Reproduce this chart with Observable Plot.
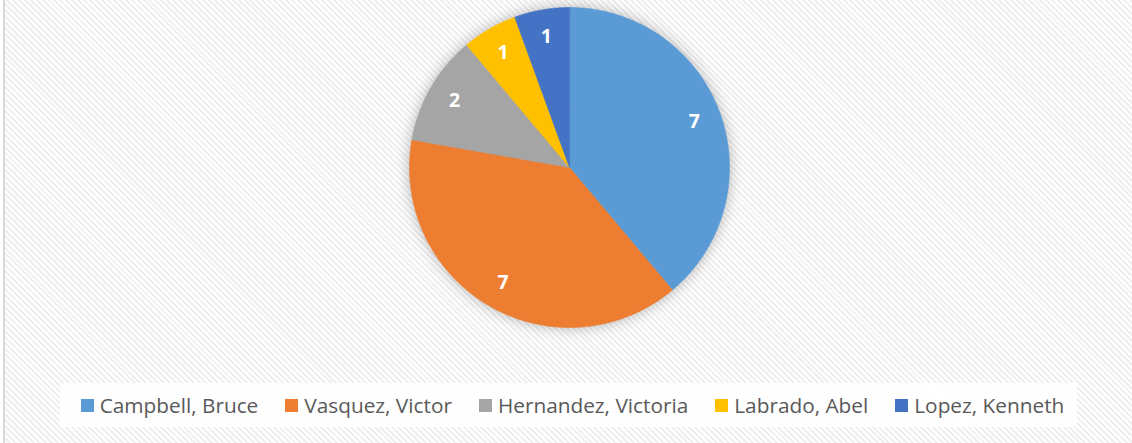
<!DOCTYPE html>
<html><head><meta charset="utf-8">
<script src="https://cdn.jsdelivr.net/npm/d3@7"></script>
<script src="https://cdn.jsdelivr.net/npm/@observablehq/plot@0.6"></script>
<style>
body{margin:0;background:#fff;}
#chart{position:relative;width:1132px;height:443px;overflow:hidden;
  background:repeating-linear-gradient(45deg,#ffffff 0 2.1px,#efefef 2.1px 4.2px);}
#leftpad{position:absolute;left:0;top:0;width:3px;height:443px;background:#fff;}
#leftline{position:absolute;left:3px;top:0;width:2px;height:443px;background:#d9d9d9;}
#plot{position:absolute;left:0;top:0;}
#legend{position:absolute;left:60px;top:383px;width:1009px;padding-left:8px;height:44px;background:rgba(255,255,255,0.9);
  display:flex;justify-content:center;align-items:center;gap:27px;
  font-family:"Open Sans",sans-serif;font-size:20.8px;color:#595959;}
#legend .item{display:flex;align-items:center;gap:6px;white-space:nowrap;}
#legend .sw{width:13px;height:13px;display:inline-block;}
</style></head>
<body><div id="chart"><div id="leftpad"></div><div id="leftline"></div><div id="plot"></div><div id="legend"></div></div>
<script>
// Data
const names = ["Campbell, Bruce", "Vasquez, Victor", "Hernandez, Victoria", "Labrado, Abel", "Lopez, Kenneth"];
const values = [7, 7, 2, 1, 1];
const colors = ["#5B9BD5", "#ED7D31", "#A5A5A5", "#FFC000", "#4472C4"];

const data = names.map((name, i) => ({name, value: values[i]}));
const arcs = d3.pie().sort(null).value(d => d.value)(data);

// polygon points for each slice (unit circle, clockwise from 12 o'clock)
const pts = [];
for (const a of arcs) {
  const n = Math.max(2, Math.ceil((a.endAngle - a.startAngle) / (Math.PI / 360)));
  pts.push({name: a.data.name, x: 0, y: 0});
  for (let k = 0; k <= n; k++) {
    const t = a.startAngle + (a.endAngle - a.startAngle) * k / n;
    pts.push({name: a.data.name, x: Math.sin(t), y: Math.cos(t)});
  }
}
const labelR = 0.83;
const labels = arcs.map(a => {
  const m = (a.startAngle + a.endAngle) / 2;
  return {name: a.data.name, value: a.data.value, x: labelR * Math.sin(m), y: labelR * Math.cos(m)};
});

const plot = Plot.plot({
  width: 1132,
  height: 380,
  marginLeft: 409, marginRight: 403, marginTop: 7, marginBottom: 53,
  x: {domain: [-1, 1], axis: null},
  y: {domain: [-1, 1], axis: null},
  color: {domain: names, range: colors},
  style: {background: "transparent", overflow: "visible"},
  marks: [
    Plot.line(pts, {x: "x", y: "y", z: "name", fill: "name", stroke: "name", strokeWidth: 0.6, curve: "linear-closed"}),
    Plot.text(labels, {x: "x", y: "y", text: d => String(d.value), fill: "white",
      fontSize: 19.5, fontWeight: "bold", fontFamily: "Open Sans"})
  ]
});
document.getElementById("plot").appendChild(plot);
const g = plot.querySelector('g[aria-label="line"]');
if (g) g.style.filter = "drop-shadow(0px 0px 7px rgba(0,0,0,0.28))";

// Legend
const legend = document.getElementById("legend");
names.forEach((n, i) => {
  const it = document.createElement("div");
  it.className = "item";
  const sw = document.createElement("span");
  sw.className = "sw";
  sw.style.background = colors[i];
  const tx = document.createElement("span");
  tx.textContent = n;
  it.appendChild(sw); it.appendChild(tx);
  legend.appendChild(it);
});
</script>
</body></html>
